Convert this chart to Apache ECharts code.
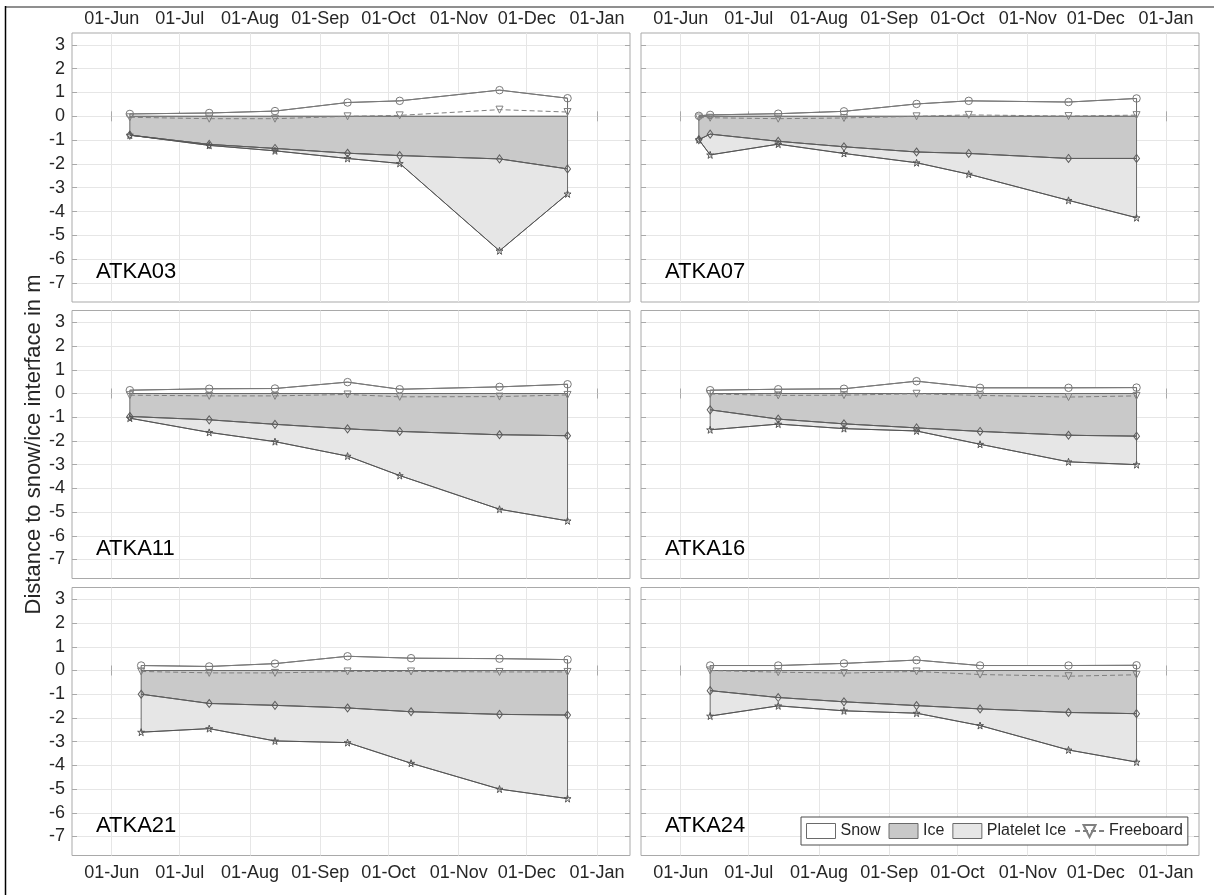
<!DOCTYPE html>
<html><head><meta charset="utf-8">
<script src="https://cdn.jsdelivr.net/npm/echarts@6/dist/echarts.min.js"></script>
<style>html,body{margin:0;padding:0;background:#fff}#c{width:1214px;height:895px}</style>
</head><body><div id="c"></div>
<script>
// ---------- tick labels ----------
const monthTicks = ['2012-06-01','2012-07-01','2012-08-01','2012-09-01','2012-10-01','2012-11-01','2012-12-01','2013-01-01'];
const monthNames = ['Jan','Feb','Mar','Apr','May','Jun','Jul','Aug','Sep','Oct','Nov','Dec'];
const yTicks = [-7,-6,-5,-4,-3,-2,-1,0,1,2,3];
const stations = ['ATKA03','ATKA07','ATKA11','ATKA16','ATKA21','ATKA24'];
const legendNames = ['Snow','Ice','Platelet Ice','Freeboard'];

// ---------- data (m, relative to snow/ice interface) ----------
const dates03 = ['2012-06-09','2012-07-14','2012-08-12','2012-09-13','2012-10-06','2012-11-19','2012-12-19'];
const snow03  = [0.10, 0.14, 0.22, 0.58, 0.65, 1.10, 0.76];
const fb03    = [-0.04,-0.10,-0.10, 0.00, 0.04, 0.28, 0.18];
const ice03   = [-0.79,-1.18,-1.35,-1.55,-1.65,-1.79,-2.21];
const plat03  = [-0.79,-1.22,-1.45,-1.77,-1.98,-5.65,-3.26];

const dates07 = ['2012-06-09','2012-06-14','2012-07-14','2012-08-12','2012-09-13','2012-10-06','2012-11-19','2012-12-19'];
const snow07  = [0.02, 0.06, 0.11, 0.21, 0.52, 0.65, 0.60, 0.75];
const fb07    = [-0.05,-0.06,-0.10,-0.07, 0.00, 0.06, 0.01, 0.05];
const ice07   = [-0.98,-0.75,-1.05,-1.28,-1.50,-1.56,-1.77,-1.77];
const plat07  = [-0.98,-1.62,-1.17,-1.56,-1.95,-2.43,-3.53,-4.26];

const dates11 = ['2012-06-09','2012-07-14','2012-08-12','2012-09-13','2012-10-06','2012-11-19','2012-12-19'];
const snow11  = [0.14, 0.20, 0.21, 0.48, 0.18, 0.28, 0.39];
const fb11    = [-0.07,-0.10,-0.10,-0.04,-0.14,-0.13,-0.06];
const ice11   = [-0.97,-1.11,-1.30,-1.49,-1.60,-1.74,-1.78];
const plat11  = [-1.04,-1.64,-2.03,-2.64,-3.46,-4.88,-5.37];

const dates16 = ['2012-06-14','2012-07-14','2012-08-12','2012-09-13','2012-10-11','2012-11-19','2012-12-19'];
const snow16  = [0.14, 0.18, 0.20, 0.52, 0.24, 0.24, 0.25];
const fb16    = [-0.02,-0.08,-0.07,-0.01,-0.08,-0.15,-0.10];
const ice16   = [-0.69,-1.08,-1.28,-1.45,-1.60,-1.76,-1.80];
const plat16  = [-1.53,-1.29,-1.48,-1.58,-2.14,-2.88,-3.00];

const dates21 = ['2012-06-14','2012-07-14','2012-08-12','2012-09-13','2012-10-11','2012-11-19','2012-12-19'];
const snow21  = [0.21, 0.17, 0.29, 0.60, 0.52, 0.50, 0.46];
const fb21    = [-0.04,-0.10,-0.10,-0.04,-0.04,-0.06,-0.06];
const ice21   = [-1.00,-1.39,-1.47,-1.58,-1.74,-1.85,-1.88];
const plat21  = [-2.60,-2.45,-2.97,-3.04,-3.91,-5.00,-5.40];

const dates24 = ['2012-06-14','2012-07-14','2012-08-12','2012-09-13','2012-10-11','2012-11-19','2012-12-19'];
const snow24  = [0.21, 0.21, 0.30, 0.44, 0.21, 0.21, 0.22];
const fb24    = [0.00,-0.07,-0.11,-0.04,-0.17,-0.24,-0.18];
const ice24   = [-0.85,-1.14,-1.32,-1.48,-1.62,-1.77,-1.82];
const plat24  = [-1.92,-1.49,-1.70,-1.80,-2.32,-3.35,-3.86];

const panels = [
  {dates:dates03, snow:snow03, fb:fb03, ice:ice03, plat:plat03},
  {dates:dates07, snow:snow07, fb:fb07, ice:ice07, plat:plat07},
  {dates:dates11, snow:snow11, fb:fb11, ice:ice11, plat:plat11},
  {dates:dates16, snow:snow16, fb:fb16, ice:ice16, plat:plat16},
  {dates:dates21, snow:snow21, fb:fb21, ice:ice21, plat:plat21},
  {dates:dates24, snow:snow24, fb:fb24, ice:ice24, plat:plat24}
];

// ---------- helpers ----------
function ts(s){ const p=s.split('-').map(Number); return Date.UTC(p[0],p[1]-1,p[2]); }
const tickTs = monthTicks.map(ts);
const xMin = Date.UTC(2012,4,14,12);
const xMax = Date.UTC(2013,0,15,13);
const yMin = -7.8, yMax = 3.5;
function fmtDate(v){ const d=new Date(v); const dd=d.getUTCDate(); return (dd<10?'0':'')+dd+'-'+monthNames[d.getUTCMonth()]; }

const FONT = '"Liberation Sans", Arial, Helvetica, sans-serif';
const cols = [{left:72, width:558},{left:641, width:558}];
const rows = [{top:33, height:269},{top:310.5, height:268},{top:587.5, height:268}];
const boxColor = '#a9a9a9', gridColor = '#e6e6e6', txt = '#262626';
const edge = '#6a6a6a';

const grid=[], xAxis=[], yAxis=[], series=[], graphic=[];
const starPath = 'path://M50,2 L61,37 L98,37 L68,59 L79,95 L50,73 L21,95 L32,59 L2,37 L39,37 Z';

panels.forEach((p,i)=>{
  const r=Math.floor(i/2), c=i%2;
  grid.push({left:cols[c].left, top:rows[r].top, width:cols[c].width, height:rows[r].height,
    show:true, borderColor:boxColor, borderWidth:1, backgroundColor:'transparent'});
  const xMain = {
    type:'value', gridIndex:i, min:xMin, max:xMax,
    position: r===0 ? 'top' : 'bottom',
    axisLine:{show:false},
    axisTick:{show:true, inside:true, length:5, customValues:tickTs, lineStyle:{color:boxColor}},
    axisLabel:{show: r!==1, customValues:tickTs, formatter:fmtDate, fontSize:18, fontFamily:FONT, color:txt,
      margin: r===0 ? 5 : 9, hideOverlap:false},
    splitLine:{show:true, lineStyle:{color:gridColor, width:1}}
  };
  const xOpp = {
    type:'value', gridIndex:i, min:xMin, max:xMax,
    position: r===0 ? 'bottom' : 'top',
    axisLine:{show:false},
    axisTick:{show:true, inside:true, length:5, customValues:tickTs, lineStyle:{color:boxColor}},
    axisLabel:{show:false}, splitLine:{show:false}
  };
  xAxis.push(xMain, xOpp);
  const yMain = {
    type:'value', gridIndex:i, min:yMin, max:yMax, position:'left',
    axisLine:{show:false},
    axisTick:{show:true, inside:true, length:5, customValues:yTicks, lineStyle:{color:boxColor}},
    axisLabel:{show: c===0, customValues:yTicks, fontSize:18, fontFamily:FONT, color:txt, margin:7},
    splitLine:{show:true, lineStyle:{color:gridColor, width:1}}
  };
  if (i===2){
    yMain.name = 'Distance to snow/ice interface in m';
    yMain.nameLocation = 'middle';
    yMain.nameRotate = 90;
    yMain.nameGap = 26;
    yMain.nameTextStyle = {fontSize:22, fontFamily:FONT, color:txt};
  }
  const yOpp = {
    type:'value', gridIndex:i, min:yMin, max:yMax, position:'right',
    axisLine:{show:false},
    axisTick:{show:true, inside:true, length:5, customValues:yTicks, lineStyle:{color:boxColor}},
    axisLabel:{show:false}, splitLine:{show:false}
  };
  yAxis.push(yMain, yOpp);

  const xs = p.dates.map(ts);
  const zero = xs.map(()=>0);
  function poly(name, top, bot, fill, z){
    series.push({
      type:'custom', name:name, xAxisIndex:2*i, yAxisIndex:2*i, silent:true, z:z,
      itemStyle:{color:fill},
      data:[[xs[0], top[0]]],
      renderItem:function(params, api){
        const pts=[];
        for (let k=0;k<xs.length;k++) pts.push(api.coord([xs[k], top[k]]));
        for (let k=xs.length-1;k>=0;k--) pts.push(api.coord([xs[k], bot[k]]));
        return {type:'polygon', shape:{points:pts}, style:{fill:fill, stroke:edge, lineWidth:1}};
      }
    });
  }
  poly('Snow', p.snow, zero, '#ffffff', 1);
  poly('Ice', zero, p.ice, '#c9c9c9', 2);
  poly('Platelet Ice', p.ice, p.plat, '#e6e6e6', 2);

  function line(name, vals, sym, size, col, extra){
    series.push(Object.assign({
      type:'line', name:name, xAxisIndex:2*i, yAxisIndex:2*i, silent:true, z:5,
      data: xs.map((x,k)=>[x, vals[k]]),
      symbol:sym, symbolSize:size, showSymbol:true,
      lineStyle:{color:col, width:1},
      itemStyle:{color:'rgba(255,255,255,0)', borderColor:col, borderWidth:1},
      animation:false
    }, extra||{}));
  }
  line('snowline', p.snow, 'circle', 7.5, '#7a7a7a');
  line('iceline', p.ice, 'diamond', [6,8], '#5c5c5c');
  line('platline', p.plat, starPath, 7, '#555555');
  line('Freeboard', p.fb, 'triangle', 7, '#808080', {symbolRotate:180, z:6,
    lineStyle:{color:'#808080', width:1, type:[5,3]}});

  graphic.push({type:'text', left: cols[c].left + 24,
    top: rows[r].top + (yMax + 6.6) * rows[r].height / (yMax - yMin) - 12,
    style:{text:stations[i], font:'22px '+FONT, fill:'#000'}, z:10});
});

graphic.push({type:'line', shape:{x1:6, y1:7, x2:1214, y2:7}, style:{stroke:'#8f8f8f', lineWidth:2}, z:10});
graphic.push({type:'line', shape:{x1:5.5, y1:6, x2:5.5, y2:895}, style:{stroke:'#000', lineWidth:1.5}, z:10});

const option = {
  backgroundColor:'#ffffff',
  animation:false,
  grid, xAxis, yAxis, series, graphic,
  legend:{
    left:801, top:817, orient:'horizontal',
    padding:[6,5], itemGap:8, itemWidth:29, itemHeight:15,
    borderColor:'#4d4d4d', borderWidth:1, backgroundColor:'#fff',
    textStyle:{fontSize:16, fontFamily:FONT, color:txt},
    selectedMode:false,
    data:[
      {name:legendNames[0], icon:'rect', itemStyle:{color:'#ffffff', borderColor:'#6a6a6a', borderWidth:1}},
      {name:legendNames[1], icon:'rect', itemStyle:{color:'#c9c9c9', borderColor:'#6a6a6a', borderWidth:1}},
      {name:legendNames[2], icon:'rect', itemStyle:{color:'#e6e6e6', borderColor:'#6a6a6a', borderWidth:1}},
      {name:legendNames[3]}
    ]
  }
};
const chart = echarts.init(document.getElementById('c'), null, {renderer:'canvas'});
chart.setOption(option);
</script></body></html>
